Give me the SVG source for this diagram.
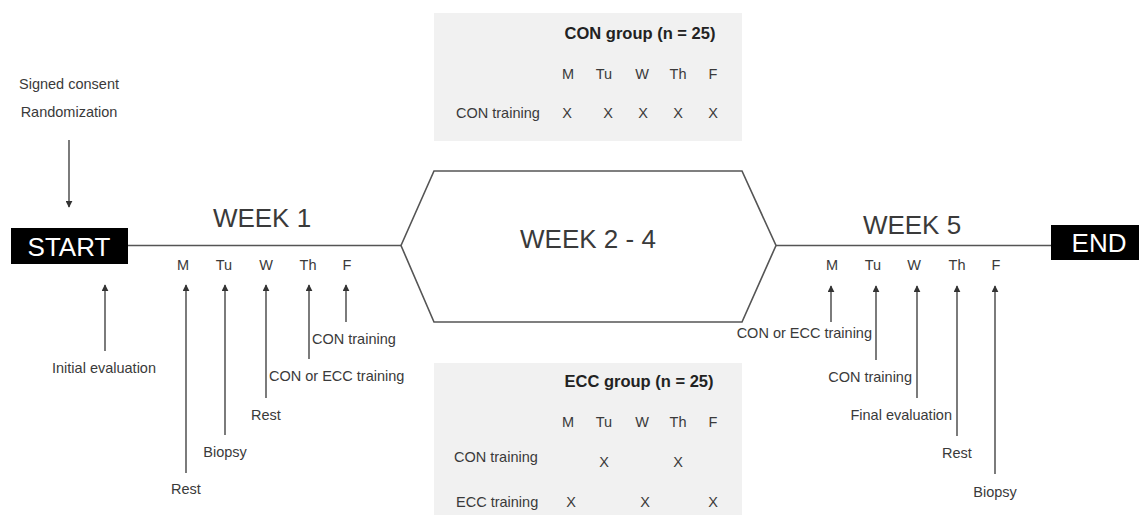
<svg xmlns="http://www.w3.org/2000/svg" width="1139" height="516" viewBox="0 0 1139 516">
<defs>
<marker id="ah" viewBox="0 0 10 10" refX="9" refY="5" markerWidth="7" markerHeight="7" markerUnits="userSpaceOnUse" orient="auto">
<path d="M0,0 L10,5 L0,10 z" fill="#333"/>
</marker>
<style>
text{font-family:"Liberation Sans",Arial,sans-serif;fill:#3a3a3a}
.s{font-size:14.5px}
.big{font-size:26px}
.bt{font-size:16.5px;font-weight:bold;fill:#222}
.m{text-anchor:middle}
.e{text-anchor:end}
.w{fill:#fff}
.line{stroke:#555;stroke-width:1.6;fill:none}
.arr{stroke:#444;stroke-width:1.4;fill:none;marker-end:url(#ah)}
.panel{fill:#f1f1f1}
</style>
</defs>
<rect width="1139" height="516" fill="#fff"/>

<g id="connectors">
<line class="line" x1="128" y1="245.5" x2="401" y2="245.5"/>
<line class="line" x1="776" y1="245.5" x2="1051" y2="245.5"/>
<line class="arr" x1="69" y1="140" x2="69" y2="207"/>
<line class="arr" x1="105" y1="351" x2="105" y2="285"/>
<line class="arr" x1="186" y1="473" x2="186" y2="285"/>
<line class="arr" x1="225" y1="435" x2="225" y2="285"/>
<line class="arr" x1="266" y1="398" x2="266" y2="285"/>
<line class="arr" x1="309" y1="359" x2="309" y2="285"/>
<line class="arr" x1="346" y1="322" x2="346" y2="285"/>
<line class="arr" x1="831" y1="322" x2="831" y2="286"/>
<line class="arr" x1="876" y1="360" x2="876" y2="286"/>
<line class="arr" x1="917" y1="398" x2="917" y2="286"/>
<line class="arr" x1="957" y1="436" x2="957" y2="286"/>
<line class="arr" x1="995" y1="474" x2="995" y2="286"/>
</g>

<g id="start">
<rect x="11" y="228" width="117" height="36" fill="#000"/>
<text class="big w m" x="69" y="256" font-size="25">START</text>
</g>

<g id="end">
<rect x="1051" y="225" width="88" height="35" fill="#000"/>
<text class="big w m" x="1099" y="252">END</text>
</g>

<g id="consent">
<text class="s m" x="69" y="89">Signed consent</text>
<text class="s m" x="69" y="117">Randomization</text>
</g>

<g id="week1">
<text class="big m" x="262" y="227">WEEK 1</text>
<text class="s m" x="183" y="270">M</text>
<text class="s m" x="224" y="270">Tu</text>
<text class="s m" x="266" y="270">W</text>
<text class="s m" x="308" y="270">Th</text>
<text class="s m" x="347" y="270">F</text>
<text class="s m" x="104" y="373">Initial evaluation</text>
<text class="s m" x="186" y="494">Rest</text>
<text class="s m" x="225" y="457">Biopsy</text>
<text class="s m" x="266" y="420">Rest</text>
<text class="s" x="269" y="381">CON or ECC training</text>
<text class="s" x="312" y="344">CON training</text>
</g>

<g id="weeks2-4">
<polygon class="line" points="401,245.5 434,171 742,171 776,245.5 742,322 434,322"/>
<text class="big m" x="588" y="248">WEEK 2 - 4</text>
</g>

<g id="week5">
<text class="big m" x="912" y="234">WEEK 5</text>
<text class="s m" x="832" y="270">M</text>
<text class="s m" x="873" y="270">Tu</text>
<text class="s m" x="914" y="270">W</text>
<text class="s m" x="957" y="270">Th</text>
<text class="s m" x="996" y="270">F</text>
<text class="s e" x="872" y="338">CON or ECC training</text>
<text class="s e" x="912" y="382">CON training</text>
<text class="s e" x="952" y="420">Final evaluation</text>
<text class="s m" x="957" y="458">Rest</text>
<text class="s m" x="995" y="497">Biopsy</text>
</g>

<g id="con-group">
<rect class="panel" x="434" y="13" width="308" height="128"/>
<text class="bt m" x="640" y="39">CON group (n = 25)</text>
<text class="s m" x="568" y="79">M</text>
<text class="s m" x="604" y="79">Tu</text>
<text class="s m" x="642" y="79">W</text>
<text class="s m" x="678" y="79">Th</text>
<text class="s m" x="713" y="79">F</text>
<text class="s" x="456" y="118">CON training</text>
<text class="s m" x="567" y="118">X</text>
<text class="s m" x="608" y="118">X</text>
<text class="s m" x="643" y="118">X</text>
<text class="s m" x="678" y="118">X</text>
<text class="s m" x="713" y="118">X</text>
</g>

<g id="ecc-group">
<rect class="panel" x="434" y="363" width="308" height="152"/>
<text class="bt m" x="639" y="387">ECC group (n = 25)</text>
<text class="s m" x="568" y="427">M</text>
<text class="s m" x="604" y="427">Tu</text>
<text class="s m" x="642" y="427">W</text>
<text class="s m" x="678" y="427">Th</text>
<text class="s m" x="713" y="427">F</text>
<text class="s" x="454" y="462">CON training</text>
<text class="s m" x="604" y="467">X</text>
<text class="s m" x="678" y="467">X</text>
<text class="s" x="456" y="507">ECC training</text>
<text class="s m" x="571" y="507">X</text>
<text class="s m" x="645" y="507">X</text>
<text class="s m" x="713" y="507">X</text>
</g>
</svg>
